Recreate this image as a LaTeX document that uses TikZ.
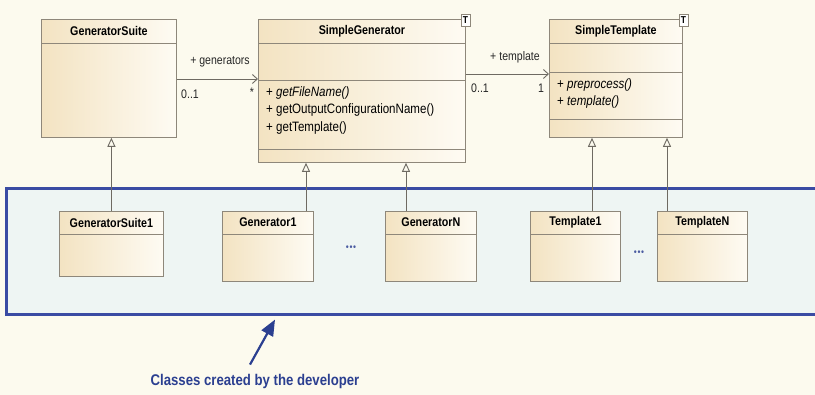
\documentclass[tikz,border=0pt]{standalone}
\usepackage{fontspec}
\setmainfont{Liberation Sans}[FakeStretch=0.85]
\usetikzlibrary{arrows.meta,calc}
\definecolor{bg}{HTML}{FCFAEE}
\definecolor{boxL}{HTML}{F3E3C2}
\definecolor{boxR}{HTML}{FEFBF3}
\definecolor{boxline}{HTML}{8E877A}
\definecolor{umlblue}{HTML}{3A4BA3}
\definecolor{regfill}{HTML}{EEF5F3}
\definecolor{txtblue}{HTML}{2B3F90}
\definecolor{linegray}{HTML}{6E6A62}
\begin{document}
\begin{tikzpicture}[x=1pt,y=-1pt,
  cls/.style={draw=boxline, line width=0.8pt, left color=boxL, right color=boxR, anchor=north west, inner sep=0pt},
  cname/.style={font=\bfseries\fontsize{12.6}{14}\selectfont, inner sep=0pt},
  meth/.style={font=\fontsize{13.6}{17.5}\selectfont, anchor=north west, align=left, inner sep=0pt},
  tbox/.style={draw=boxline, fill=white, font=\bfseries\fontsize{10}{10}\selectfont, inner sep=0pt, minimum width=9pt, minimum height=12pt},
  divider/.style={draw=boxline, line width=0.8pt},
  gen/.style={draw=linegray, line width=0.9pt, -{Triangle[open,length=9pt,width=8pt]}},
  assoc/.style={draw=linegray, line width=0.9pt, -{Straight Barb[length=5pt,width=9pt]}},
  lbl/.style={font=\fontsize{12.4}{14}\selectfont, inner sep=0pt, text=black!85},
  dots/.style={font=\fontsize{10}{10}\selectfont, text=txtblue!85, inner sep=0pt},
  barrow/.style={draw=txtblue, line width=2.2pt, -{Triangle[length=16pt,width=13pt]}}
]
\fill[bg] (0,0) rectangle (815,395);
\useasboundingbox (0,0) rectangle (815,395);

% developer region
\node[draw=umlblue, line width=2.6pt, fill=regfill, anchor=north west, minimum width=840pt, minimum height=126pt, inner sep=0pt] (region) at (5,187) {};

% GeneratorSuite
\node[cls, minimum width=135pt, minimum height=118pt] (gs) at (41,19) {};
\draw[divider] ($(gs.north west)+(0,24)$) -- ($(gs.north east)+(0,24)$);
\node[cname] (gsn) at ($(gs.north)+(0,12)$) {GeneratorSuite};

% SimpleGenerator
\node[cls, minimum width=207pt, minimum height=143pt] (sg) at (258,19) {};
\draw[divider] ($(sg.north west)+(0,24)$) -- ($(sg.north east)+(0,24)$);
\draw[divider] ($(sg.north west)+(0,61)$) -- ($(sg.north east)+(0,61)$);
\draw[divider] ($(sg.north west)+(0,130)$) -- ($(sg.north east)+(0,130)$);
\node[cname] (sgn) at ($(sg.north)+(0,12)$) {SimpleGenerator};
\node[meth] (sgm) at (266,86) {+ \textit{getFileName()}\\+ getOutputConfigurationName()\\+ getTemplate()};
\node[tbox] (sgt) at (465.5,20) {T};

% SimpleTemplate
\node[cls, minimum width=133pt, minimum height=118pt] (st) at (549,19) {};
\draw[divider] ($(st.north west)+(0,24)$) -- ($(st.north east)+(0,24)$);
\draw[divider] ($(st.north west)+(0,53)$) -- ($(st.north east)+(0,53)$);
\draw[divider] ($(st.north west)+(0,100)$) -- ($(st.north east)+(0,100)$);
\node[cname] (stn) at ($(st.north)+(0,12)$) {SimpleTemplate};
\node[meth] (stm) at (557,78) {+ \textit{preprocess()}\\+ \textit{template()}};
\node[tbox] (stt) at (683.5,20) {T};

% associations
\draw[assoc] (gs.east |- 0,79) coordinate (a1s) -- (sg.west |- 0,79) coordinate (a1e);
\node[lbl] (l1) at (220,62) {+ generators};
\node[lbl] (l2) at (190,94) {0..1};
\node[lbl] (l3) at (252,92) {*};
\draw[assoc] ($(sg.north east)+(0,55)$) coordinate (a2s) -- ($(st.north west)+(0,55)$) coordinate (a2e);
\node[lbl] (l4) at (515,57) {+ template};
\node[lbl] (l5) at (480,88) {0..1};
\node[lbl] (l6) at (541,88) {1};

% developer classes
\node[cls, minimum width=104pt, minimum height=65pt] (gs1) at (59,211) {};
\draw[divider] ($(gs1.north west)+(0,23)$) -- ($(gs1.north east)+(0,23)$);
\node[cname] (gs1n) at ($(gs1.north)+(0,11.5)$) {GeneratorSuite1};

\node[cls, minimum width=91pt, minimum height=70pt] (g1) at (222,211) {};
\draw[divider] ($(g1.north west)+(0,23)$) -- ($(g1.north east)+(0,23)$);
\node[cname] (g1n) at ($(g1.north)+(0,11.5)$) {Generator1};

\node[dots] (d1) at (351,248) {\textbullet\kern0.6pt\textbullet\kern0.6pt\textbullet};

\node[cls, minimum width=91pt, minimum height=70pt] (gN) at (385,211) {};
\draw[divider] ($(gN.north west)+(0,23)$) -- ($(gN.north east)+(0,23)$);
\node[cname] (gNn) at ($(gN.north)+(0,11.5)$) {GeneratorN};

\node[cls, minimum width=90pt, minimum height=70pt] (t1) at (530,211) {};
\draw[divider] ($(t1.north west)+(0,23)$) -- ($(t1.north east)+(0,23)$);
\node[cname] (t1n) at ($(t1.north)+(0,11.5)$) {Template1};

\node[dots] (d2) at (639,253) {\textbullet\kern0.6pt\textbullet\kern0.6pt\textbullet};

\node[cls, minimum width=90pt, minimum height=70pt] (tN) at (657,211) {};
\draw[divider] ($(tN.north west)+(0,23)$) -- ($(tN.north east)+(0,23)$);
\node[cname] (tNn) at ($(tN.north)+(0,11.5)$) {TemplateN};

% generalizations
\draw[gen] (gs1.north |- 0,211) -- (gs1.north |- gs.south);
\draw[gen] ($(g1.north west)+(84,0)$) -- ($(sg.south west)+(48,0)$);
\draw[gen] ($(gN.north west)+(21,0)$) -- ($(sg.south west)+(148,0)$);
\draw[gen] ($(t1.north west)+(62,0)$) -- ($(st.south west)+(43,0)$);
\draw[gen] ($(tN.north west)+(10,0)$) -- ($(st.south west)+(118,0)$);

% caption
\node[font=\bfseries\fontsize{15.5}{17}\selectfont, text=txtblue, inner sep=0pt] (cap) at (255,381) {Classes created by the developer};
\draw[barrow] ($(cap.north)+(-5,-9)$) -- ($(region.south west)+(270,4)$);
\end{tikzpicture}
\end{document}
